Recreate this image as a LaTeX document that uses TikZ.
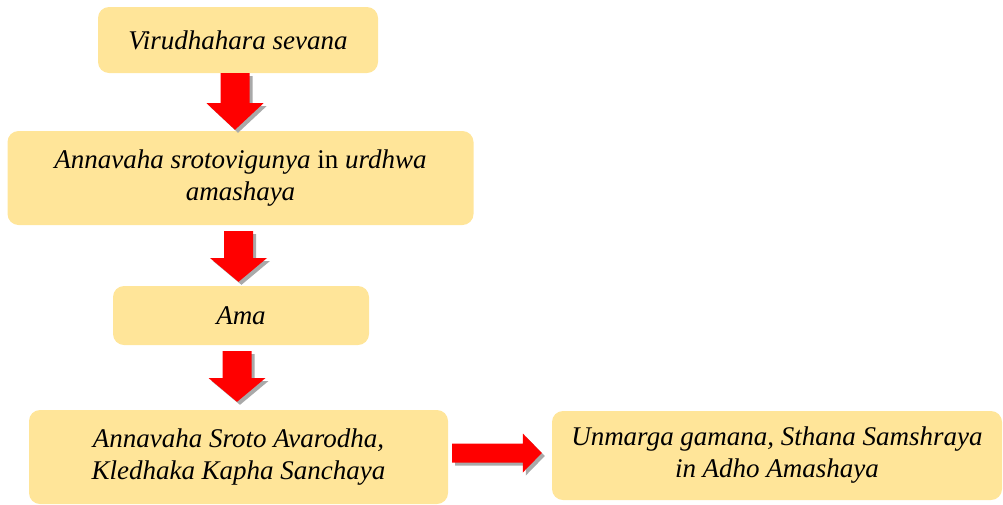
\documentclass[tikz,border=0pt]{standalone}
\usepackage{fontspec}
\setmainfont{Liberation Serif}[ItalicFont={Liberation Serif Italic}]
\usetikzlibrary{calc}
\definecolor{boxfill}{HTML}{FFE599}
\definecolor{arrred}{HTML}{FF0000}
\definecolor{shadowgray}{HTML}{A9A9A9}
\tikzset{
  flowbox/.style={fill=boxfill, draw=none, rounded corners=11pt, align=center,
    inner sep=2pt, font=\fontsize{27}{32}\selectfont\itshape},
  arrowbody/.style={fill=arrred, draw=none},
  arrowshadow/.style={fill=shadowgray, draw=none}
}
% down block arrow: #1 = x centre, #2 = start node, #3 = end node, #4 gap top, #5 gap bottom
\newcommand{\downblock}[5]{%
  \path let \p1=(#2.south), \p2=(#3.north) in
    coordinate (ta) at (#1,\y1-#4) coordinate (tb) at (#1,\y2+#5);
  \foreach \dx/\dy/\sty in {3pt/-3pt/arrowshadow,0pt/0pt/arrowbody}{
    \path[\sty] let \p1=($(ta)+(\dx,\dy)$), \p2=($(tb)+(\dx,\dy)$), \n1={0.53*(\y1-\y2)} in
      (\x1-14.5pt,\y1) -- (\x1+14.5pt,\y1) -- (\x1+14.5pt,\y1-\n1) -- (\x1+28.5pt,\y1-\n1)
      -- (\x2,\y2) -- (\x1-28.5pt,\y1-\n1) -- (\x1-14.5pt,\y1-\n1) -- cycle;
  }%
}
\begin{document}
\begin{tikzpicture}[x=1pt,y=-1pt]
\useasboundingbox (0,0) rectangle (1003,504);
\node[flowbox, minimum width=280pt, minimum height=66pt] (b1) at (238,40) {Virudhahara sevana};
\node[flowbox, minimum width=466pt, minimum height=94pt] (b2) at (240.5,178)
  {Annavaha srotovigunya \upshape in \itshape urdhwa\\amashaya};
\node[flowbox, minimum width=256pt, minimum height=59pt] (b3) at (241,315.5) {Ama};
\node[flowbox, minimum width=419pt, minimum height=94pt] (b4) at (238.5,457)
  {Annavaha Sroto Avarodha,\\Kledhaka Kapha Sanchaya};
\node[flowbox, minimum width=450pt, minimum height=89pt] (b5) at (777,455.5)
  {Unmarga gamana, Sthana Samshraya\\in Adho Amashaya};
\downblock{235}{b1}{b2}{0pt}{1pt}
\downblock{238.5}{b2}{b3}{6pt}{4pt}
\downblock{237}{b3}{b4}{6pt}{8pt}
% right block arrow
\path let \p1=(b4.east), \p2=(b5.west) in
  coordinate (ra) at (\x1+4pt,-453pt) coordinate (rb) at (\x2-10pt,-453pt);
\foreach \dx/\dy/\sty in {3pt/-3pt/arrowshadow,0pt/0pt/arrowbody}{
  \path[\sty] let \p1=($(ra)+(\dx,\dy)$), \p2=($(rb)+(\dx,\dy)$) in
    (\x1,\y1+9.5pt) -- (\x2-19pt,\y1+9.5pt) -- (\x2-19pt,\y1+19.5pt) -- (\x2,\y2)
    -- (\x2-19pt,\y1-19.5pt) -- (\x2-19pt,\y1-9.5pt) -- (\x1,\y1-9.5pt) -- cycle;
}
\end{tikzpicture}
\end{document}
